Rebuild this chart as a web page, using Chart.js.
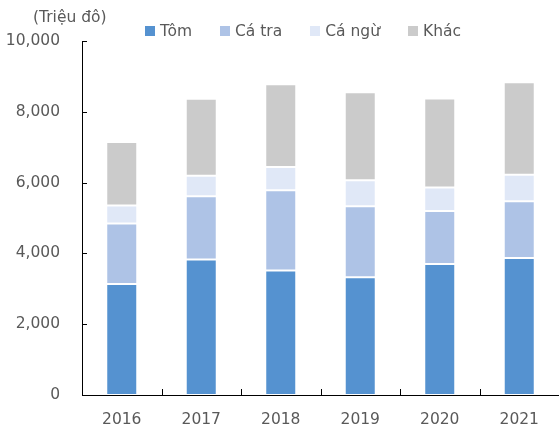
<!DOCTYPE html>
<html>
<head>
<meta charset="utf-8">
<script src="https://cdn.jsdelivr.net/npm/chart.js@4.4.0/dist/chart.umd.min.js"></script>
<style>
  body { margin: 0; background: #fff; }
  #wrap { position: relative; width: 559px; height: 432px; }
  #unit { position: absolute; left: 33px; top: 8px; font: 15.5px "DejaVu Sans"; color: #595959; }
  #legend { position: absolute; left: 145px; top: 22px; display: flex; gap: 28px; font: 15.5px "DejaVu Sans"; color: #595959; }
  #legend .item { display: flex; align-items: center; }
  #legend .box { width: 10px; height: 10px; margin-right: 5px; }
</style>
</head>
<body>
<div id="wrap">
  <canvas id="chart" width="559" height="432"></canvas>
  <div id="unit">(Triệu đô)</div>
  <div id="legend"></div>
</div>
<script>
// Datos
const years = ['2016', '2017', '2018', '2019', '2020', '2021'];
const tom   = [3135, 3830, 3520, 3324, 3700, 3868];
const caTra = [1710, 1784, 2263, 2009, 1500, 1606];
const caNgu = [507, 583, 657, 732, 660, 751];
const khac  = [1794, 2169, 2340, 2489, 2516, 2611];
const yTicks = [0, 2000, 4000, 6000, 8000, 10000];

const seriesNames = ['Tôm', 'Cá tra', 'Cá ngừ', 'Khác'];
const seriesColors = ['#5592D0', '#AEC3E6', '#E0E8F7', '#CBCBCB'];
const seriesData = [tom, caTra, caNgu, khac];

// Leyenda en HTML
const legend = document.getElementById('legend');
seriesNames.forEach((name, i) => {
    legend.innerHTML += `<div class="item"><div class="box" style="background:${seriesColors[i]}"></div>${name}</div>`;
});

// Marcas de eje hacia adentro
const innerTicks = {
    id: 'innerTicks',
    afterDraw(chart) {
        const ctx = chart.ctx;
        const x = chart.scales.x, y = chart.scales.y;
        ctx.save();
        ctx.strokeStyle = '#000';
        ctx.lineWidth = 1;
        ctx.beginPath();
        yTicks.forEach(v => {
            const py = Math.round(y.getPixelForValue(v)) + 0.5;
            ctx.moveTo(x.left, py);
            ctx.lineTo(x.left + 5, py);
        });
        for (let i = 1; i < years.length; i++) {
            const px = Math.round((x.getPixelForValue(i - 1) + x.getPixelForValue(i)) / 2) + 0.5;
            ctx.moveTo(px, y.bottom);
            ctx.lineTo(px, y.bottom - 6);
        }
        ctx.stroke();
        ctx.restore();
    }
};

new Chart(document.getElementById('chart'), {
    type: 'bar',
    data: {
        labels: years,
        datasets: seriesNames.map((name, i) => ({
            label: name,
            data: seriesData[i],
            backgroundColor: seriesColors[i],
            borderColor: 'rgba(255,255,255,0.6)',
            borderWidth: 1,
            borderSkipped: false,
            categoryPercentage: 1,
            barPercentage: 0.39
        }))
    },
    options: {
        responsive: false,
        animation: false,
        layout: { padding: { top: 41, right: 0, bottom: 0, left: 0 } },
        plugins: {
            legend: { display: false },
            tooltip: { enabled: false }
        },
        scales: {
            x: {
                stacked: true,
                grid: { display: false, drawTicks: false },
                border: { display: true, color: '#000', width: 1 },
                ticks: { color: '#595959', font: { family: 'DejaVu Sans', size: 15.5 }, padding: 16 },
                afterFit: s => { s.height = 37; }
            },
            y: {
                stacked: true,
                min: 0,
                max: 10000,
                afterBuildTicks: s => { s.ticks = yTicks.map(v => ({ value: v })); },
                grid: { display: false, drawTicks: false },
                border: { display: true, color: '#000', width: 1 },
                ticks: {
                    color: '#595959',
                    font: { family: 'DejaVu Sans', size: 15.5 },
                    padding: 22,
                    callback: v => v.toLocaleString('en-US')
                },
                afterFit: s => { s.width = 82; }
            }
        }
    },
    plugins: [innerTicks]
});
</script>
</body>
</html>
